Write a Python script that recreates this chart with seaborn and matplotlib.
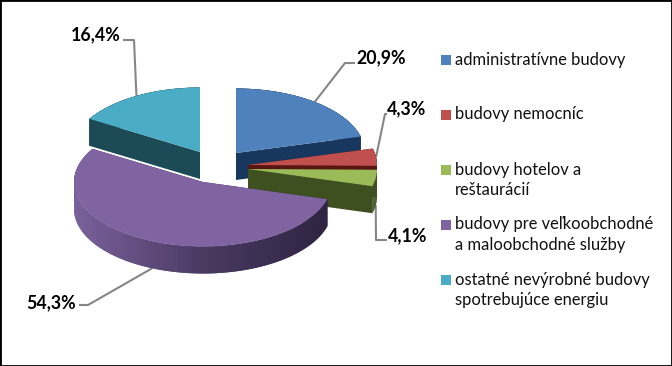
import numpy as np
import matplotlib
matplotlib.use("Agg")
import matplotlib.pyplot as plt
from matplotlib.patches import Polygon
import seaborn as sns

# --- data ---
categories = [
    "administratívne budovy",
    "budovy nemocníc",
    "budovy hotelov a\nreštaurácií",
    "budovy pre veľkoobchodné\na maloobchodné služby",
    "ostatné nevýrobné budovy\nspotrebujúce energiu",
]
values = [20.9, 4.3, 4.1, 54.3, 16.4]

# --- style ---
top_colors = ["#4F81BD", "#C0504D", "#9BBB59", "#8064A2", "#4BACC6"]
side_colors = [["#17375E"] * 2, ["#5A1512"] * 2, ["#3F5020", "#4C6126"],
               ["#2E2340", "#4A3A62", "#7A619C"], ["#1C4A55"] * 2]
apex_px = [(236, 153), (248, 165), (248, 169), (203, 182), (200, 152)]
draw_order = [0, 4, 1, 2, 3]
RADIUS = 129
DEPTH = 27
leader_elbows = [[(345, 63), (355, 63)], [(385, 114), (387, 114)], [(376, 240), (387, 240)],
                 [(88, 305), (79, 305)], [(134, 40), (123, 40)]]
label_pos = [(356, 58, "left"), (387, 108.5, "left"), (388, 236, "left"),
             (76, 302.5, "right"), (121, 34.5, "right")]
legend_x, legend_y0, legend_pitch = 446, 59.5, 55

sns.set_theme(style="white")
plt.rcParams["font.family"] = ["Lato", "DejaVu Sans"]

fig = plt.figure(figsize=(6.72, 3.66), dpi=100)
ax = fig.add_axes([0, 0, 1, 1])


def yd(py):
    """Pixel row to data units; the y axis is stretched 2:1 to flatten the pie."""
    return (366 - py) * 2


wedges, _ = ax.pie(values, startangle=90, counterclock=False, radius=RADIUS,
                   frame=True, wedgeprops={"linewidth": 0})
ax.set_aspect("auto")
ax.set_xlim(0, 672)
ax.set_ylim(0, 732)
ax.set_xticks([])
ax.set_yticks([])
ax.grid(False)
for s in ax.spines.values():
    s.set_visible(True)
    s.set_color("black")
    s.set_linewidth(2.0)

drop = DEPTH * 2
for rank, i in enumerate(draw_order):
    w = wedges[i]
    cx, cy = apex_px[i][0], yd(apex_px[i][1])
    w.set_center((cx, cy))
    w.set_facecolor(top_colors[i])
    w.set_zorder(2 + rank + 0.5)
    t = np.radians(np.linspace(w.theta1, w.theta2, 90))
    xs, ys = cx + RADIUS * np.cos(t), cy + RADIUS * np.sin(t)
    pal = sns.blend_palette(side_colors[i], n_colors=60)
    base = 2 + rank
    # cut faces
    for ang in (t[0], t[-1]):
        ex, ey = cx + RADIUS * np.cos(ang), cy + RADIUS * np.sin(ang)
        ax.add_patch(Polygon([(cx, cy), (ex, ey), (ex, ey - drop), (cx, cy - drop)],
                             closed=True, fc=side_colors[i][0], lw=0, zorder=base))
    # outer wall, shaded along the arc: each strip overlaps the next to avoid seams
    for k in range(len(t) - 1):
        frac = (np.cos(t[k]) + 1) / 2
        col = pal[int((1 - frac) * 59)]
        e = min(k + 3, len(t))
        pts = list(zip(xs[k:e], ys[k:e])) + list(zip(xs[k:e][::-1], ys[k:e][::-1] - drop))
        ax.add_patch(Polygon(pts, closed=True, fc=col, lw=0, zorder=base + 0.1))
    # leader line from the middle of the arc (bottom of the wall on front-facing slices)
    mid = np.radians((w.theta1 + w.theta2) / 2)
    start_y = cy + RADIUS * np.sin(mid)
    if np.sin(mid) < 0:
        start_y -= drop
    ax_pts = [(cx + RADIUS * np.cos(mid), start_y)]
    ax_pts += [(x, yd(y)) for x, y in leader_elbows[i]]
    ax.plot(*zip(*ax_pts), color="#868686", lw=1.5, zorder=1, solid_capstyle="butt")
    lx, ly, ha = label_pos[i]
    ax.text(lx, yd(ly), f"{values[i]:.1f}%".replace(".", ","), ha=ha, va="center",
            fontsize=12.8, fontweight="bold", color="black", zorder=20)

# legend column
for i, name in enumerate(categories):
    y = legend_y0 + i * legend_pitch
    ax.scatter([legend_x], [yd(y)], marker="s", s=52, color=top_colors[i], linewidths=0, zorder=20)
    ax.text(455, yd(y - 8), name, ha="left", va="top", fontsize=11.9,
            color="#111111", linespacing=1.35, zorder=20)

fig.savefig("out.png", dpi=100)
